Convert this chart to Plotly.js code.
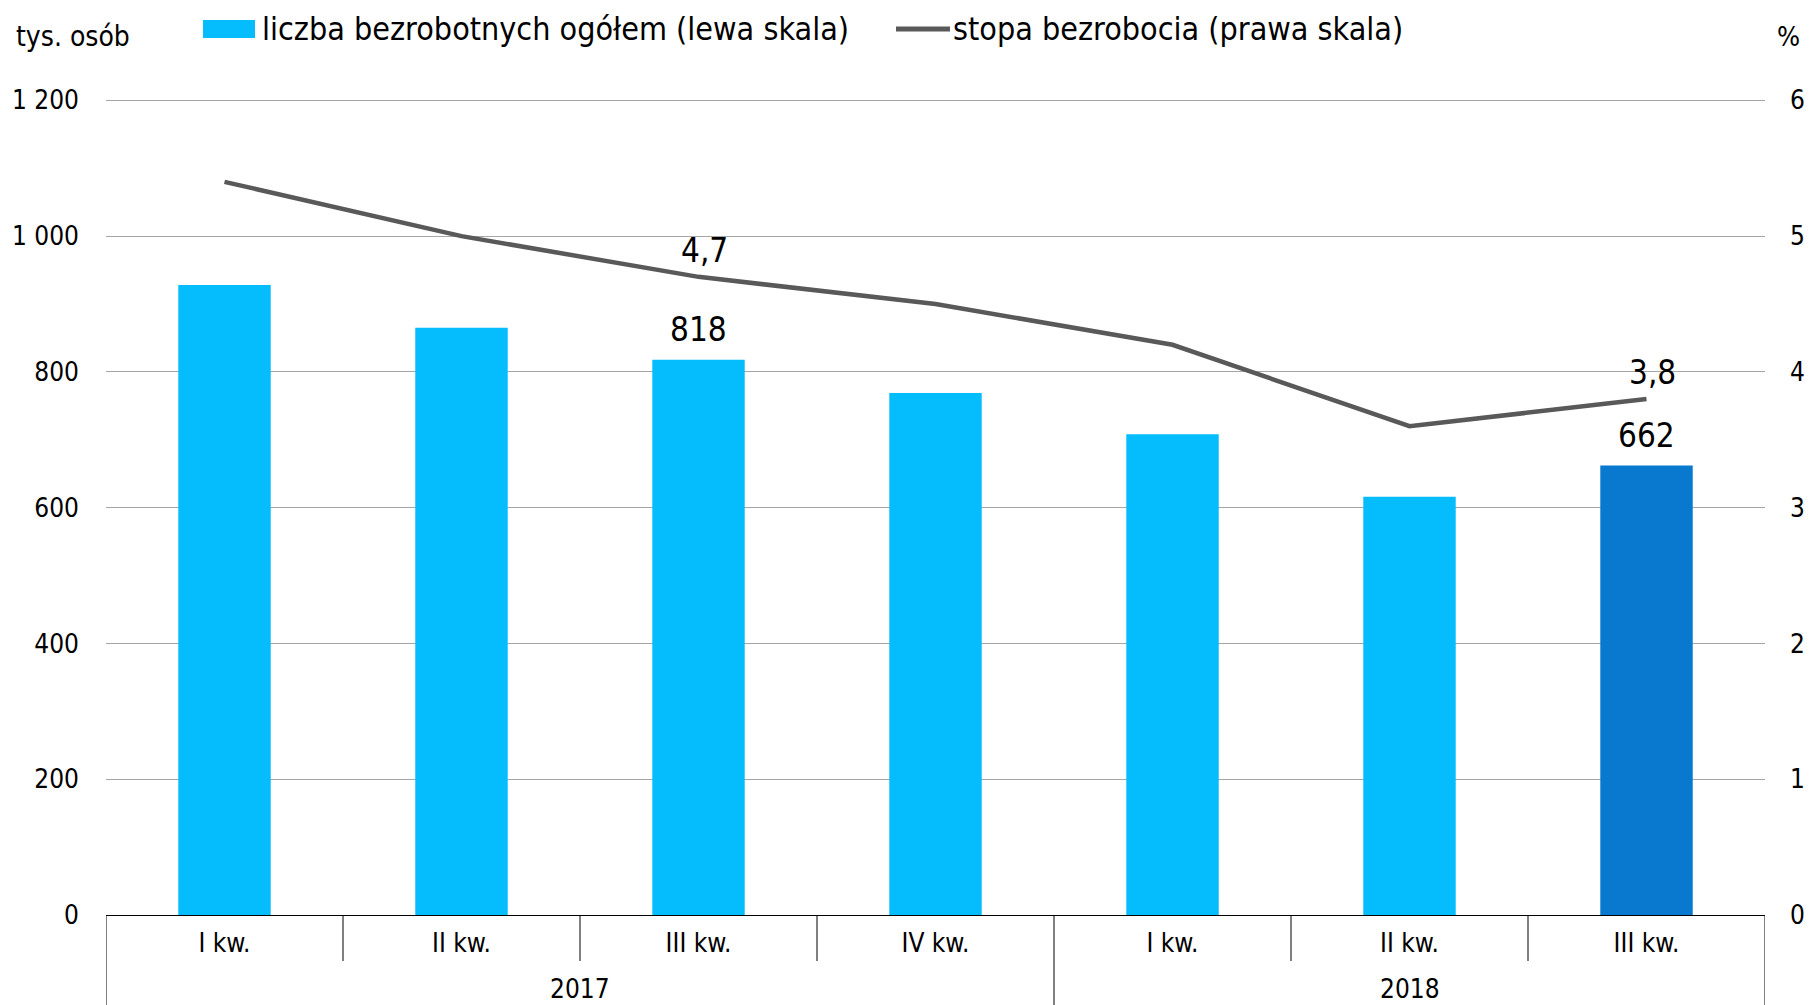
<!DOCTYPE html>
<html>
<head>
<meta charset="utf-8">
<script src="https://cdn.plot.ly/plotly-3.0.1.min.js"></script>
<style>
html,body{margin:0;padding:0;background:#fff;}
#chart{width:1812px;height:1005px;}
</style>
</head>
<body>
<div id="chart"></div>
<script>
// ---- data ----
var quarters = ['I kw.', 'II kw.', 'III kw.', 'IV kw.', 'I kw.', 'II kw.', 'III kw.'];
var years = ['2017', '2017', '2017', '2017', '2018', '2018', '2018'];
var unemployed = [928, 865, 818, 769, 708, 616, 662];      // tys. osób
var rate = [5.4, 5.0, 4.7, 4.5, 4.2, 3.6, 3.8];              // %
var barLabelIdx = [2, 6];
var rateLabelIdx = [2, 6];
var seriesNames = ['liczba bezrobotnych ogółem (lewa skala)', 'stopa bezrobocia (prawa skala)'];

var FONT = '"DejaVu Sans Condensed", "DejaVu Sans", sans-serif';
var LIGHT = '#05BDFD';
var DARK = '#0879CF';
var LINE = '#595959';

var W = 1812, H = 1005;
var M = { l: 106, r: 47, t: 99, b: 90 };
var PW = W - M.l - M.r, PH = H - M.t - M.b;
function px2x(px) { return (px - M.l) / PW; }
function px2y(py) { return (H - M.b - py) / PH; }

var xs = quarters.map(function (q, i) { return i; });
var barColors = xs.map(function (i) { return i === xs.length - 1 ? DARK : LIGHT; });

var traces = [
  {
    type: 'bar',
    name: seriesNames[0],
    x: xs,
    y: unemployed,
    width: 0.39,
    marker: { color: barColors },
    showlegend: false,
    hoverinfo: 'skip'
  },
  {
    type: 'scatter',
    mode: 'lines',
    name: seriesNames[1],
    x: xs,
    y: rate,
    yaxis: 'y2',
    line: { color: LINE, width: 4.5 },
    showlegend: false,
    hoverinfo: 'skip'
  }
];

function fmt(v) { return String(v).replace('.', ','); }

var annotations = [];
var shapes = [];

barLabelIdx.forEach(function (i) {
  annotations.push({
    x: i, y: unemployed[i], xref: 'x', yref: 'y',
    text: fmt(unemployed[i]), showarrow: false,
    yanchor: 'bottom', yshift: 9,
    font: { family: FONT, size: 33, color: '#000' }
  });
});
rateLabelIdx.forEach(function (i) {
  annotations.push({
    x: i, y: rate[i], xref: 'x', yref: 'y2',
    text: fmt(rate[i]), showarrow: false,
    yanchor: 'bottom', yshift: 5, xshift: 6,
    font: { family: FONT, size: 33, color: '#000' }
  });
});

// axis unit labels
annotations.push({ x: px2x(73), xref: 'paper', xanchor: 'center', y: px2y(36), yref: 'paper', yanchor: 'middle',
  text: 'tys. osób', showarrow: false, font: { family: FONT, size: 28, color: '#000' } });
annotations.push({ x: px2x(1788), xref: 'paper', xanchor: 'center', y: px2y(36), yref: 'paper', yanchor: 'middle',
  text: '%', showarrow: false, font: { family: FONT, size: 27, color: '#000' } });

// legend (drawn by hand to match the reference symbol sizes)
shapes.push({ type: 'rect', xref: 'paper', yref: 'paper',
  x0: px2x(203), x1: px2x(255), y0: px2y(38), y1: px2y(20),
  fillcolor: LIGHT, line: { width: 0 } });
annotations.push({ x: px2x(260), xref: 'paper', xanchor: 'left', y: px2y(29), yref: 'paper', yanchor: 'middle',
  text: seriesNames[0], showarrow: false, font: { family: FONT, size: 32, color: '#000' } });
shapes.push({ type: 'line', xref: 'paper', yref: 'paper',
  x0: px2x(896), x1: px2x(950), y0: px2y(29), y1: px2y(29),
  line: { color: LINE, width: 5 } });
annotations.push({ x: px2x(951), xref: 'paper', xanchor: 'left', y: px2y(29), yref: 'paper', yanchor: 'middle',
  text: seriesNames[1], showarrow: false, font: { family: FONT, size: 32, color: '#000' } });

// year group labels and dividers
var groups = [];
years.forEach(function (y, i) {
  if (!groups.length || groups[groups.length - 1].year !== y) groups.push({ year: y, start: i, end: i });
  else groups[groups.length - 1].end = i;
});
groups.forEach(function (g) {
  annotations.push({
    x: (g.start + g.end) / 2, xref: 'x', y: 0, yref: 'paper', yanchor: 'middle', yshift: -74,
    text: g.year, showarrow: false, font: { family: FONT, size: 26, color: '#000' }
  });
});
for (var b = 0; b <= xs.length; b++) {
  var bx = b - 0.5;
  var isGroupEdge = (b === 0 || b === xs.length || years[b] !== years[b - 1]);
  shapes.push({
    type: 'line', xref: 'x', yref: 'paper',
    x0: bx, x1: bx, y0: 0, y1: isGroupEdge ? px2y(H + 2) : px2y(961),
    line: { color: '#000', width: 1 }
  });
}

var layout = {
  width: W, height: H,
  margin: { l: M.l, r: M.r, t: M.t, b: M.b, autoexpand: false },
  paper_bgcolor: '#fff', plot_bgcolor: '#fff',
  separators: ', ',
  font: { family: FONT, size: 26, color: '#000' },
  showlegend: false,
  xaxis: {
    type: 'linear', range: [-0.5, xs.length - 0.5],
    tickmode: 'array', tickvals: xs, ticktext: quarters,
    showgrid: false, zeroline: false,
    showline: true, linecolor: '#000', linewidth: 1,
    ticks: '', ticklabelstandoff: 5,
    tickfont: { family: FONT, size: 26, color: '#000' },
    fixedrange: true
  },
  yaxis: {
    range: [0, 1202], dtick: 200, tick0: 0,
    separatethousands: true,
    showgrid: true, gridcolor: '#A6A6A6', gridwidth: 1,
    zeroline: false, showline: false, ticks: '',
    ticklabelstandoff: 26,
    tickfont: { family: FONT, size: 26, color: '#000' },
    fixedrange: true
  },
  yaxis2: {
    overlaying: 'y', side: 'right',
    range: [0, 6.01], dtick: 1, tick0: 0,
    showgrid: false, zeroline: false, showline: false, ticks: '',
    ticklabelstandoff: 24,
    tickfont: { family: FONT, size: 26, color: '#000' },
    fixedrange: true
  },
  annotations: annotations,
  shapes: shapes
};

Plotly.newPlot('chart', traces, layout, { displayModeBar: false, staticPlot: true });
</script>
</body>
</html>
